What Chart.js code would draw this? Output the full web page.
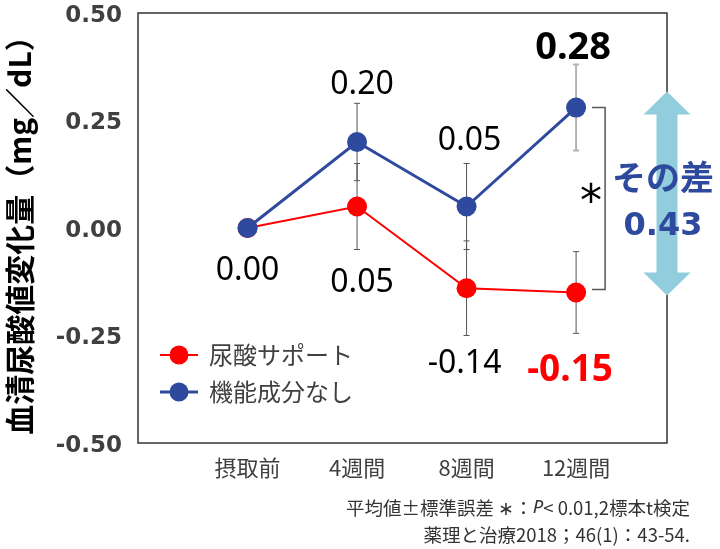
<!DOCTYPE html>
<html>
<head>
<meta charset="utf-8">
<script src="https://cdn.jsdelivr.net/npm/chart.js@4.4.1/dist/chart.umd.min.js"></script>
<style>
html,body{margin:0;padding:0;background:#fff;}
#wrap{width:720px;height:549px;}
</style>
</head>
<body>
<div id="wrap"><canvas id="chart" width="720" height="549"></canvas></div>
<script>
// data
const categories = ['摂取前', '4週間', '8週間', '12週間'];
const seriesNames = ['尿酸サポート', '機能成分なし'];
const supportVals = [0.00, 0.05, -0.14, -0.15];
const supportErr = [0, 0.10, 0.11, 0.095];
const noneVals = [0.00, 0.20, 0.05, 0.28];
const noneErr = [0, 0.09, 0.10, 0.10];
const yTicks = [0.50, 0.25, 0.00, -0.25, -0.50];
const diffText = ['その差', '0.43'];
const yTitle = '血清尿酸値変化量（mg／dL）';
const notes = ['平均値±標準誤差 ∗：', 'P', '< 0.01,2標本t検定', '薬理と治療2018；46(1)：43-54.'];

const RED = '#FF0000', BLUE = '#2E4A9E';
const JP = '"Noto Sans CJK JP", "Noto Sans", sans-serif';

// value labels: which series / index, offset from the point, style
const valueLabels = [
  {s:0, i:0, dx:0, dy:52, font:'32px "Noto Sans"', color:'#000'},
  {s:0, i:1, dx:5, dy:85, font:'32px "Noto Sans"', color:'#000'},
  {s:0, i:2, dx:-2, dy:85, font:'32px "Noto Sans"', color:'#000'},
  {s:0, i:3, dx:-6, dy:88, font:'bold 37px "Noto Sans"', color:RED},
  {s:1, i:1, dx:5, dy:-48, font:'32px "Noto Sans"', color:'#000'},
  {s:1, i:2, dx:3, dy:-57, font:'32px "Noto Sans"', color:'#000'},
  {s:1, i:3, dx:-3, dy:-49, font:'bold 38px "Noto Sans"', color:'#000'}
];

function pts(vals){ return vals.map((v,i)=>({x:i, y:v})); }

const extras = {
  id: 'extras',
  beforeDatasetsDraw(chart){
    const ctx = chart.ctx, xs = chart.scales.x, ys = chart.scales.y;
    chart.data.datasets.forEach(ds=>{
      ds.err.forEach((e,i)=>{
        if(!e) return;
        const x = xs.getPixelForValue(i);
        const t = ys.getPixelForValue(ds.data[i].y + e), b = ys.getPixelForValue(ds.data[i].y - e);
        ctx.save();
        ctx.strokeStyle = ds.errColor[i];
        ctx.lineWidth = ds.errColor[i]==='#b4b4b4' ? 2 : 1;
        ctx.beginPath();
        ctx.moveTo(x,t); ctx.lineTo(x,b);
        ctx.moveTo(x-3,t); ctx.lineTo(x+3,t);
        ctx.moveTo(x-3,b); ctx.lineTo(x+3,b);
        ctx.stroke();
        ctx.restore();
      });
    });
  },
  afterDatasetsDraw(chart){
    const ctx = chart.ctx, a = chart.chartArea, xs = chart.scales.x, ys = chart.scales.y;
    ctx.save();
    // box
    ctx.strokeStyle = '#333'; ctx.lineWidth = 1.5;
    ctx.strokeRect(a.left, a.top, a.right-a.left, a.bottom-a.top);

    // bracket + asterisk between the 12-week points
    const last = categories.length-1;
    const px = xs.getPixelForValue(last);
    const by = ys.getPixelForValue(noneVals[last]), ry = ys.getPixelForValue(supportVals[last]);
    ctx.strokeStyle = '#555'; ctx.lineWidth = 1.5;
    ctx.beginPath();
    ctx.moveTo(px+16, by); ctx.lineTo(px+29, by); ctx.lineTo(px+29, ry-3); ctx.lineTo(px+16, ry-3);
    ctx.stroke();
    ctx.fillStyle = '#000'; ctx.font = '44px "DejaVu Sans"'; ctx.textAlign = 'center'; ctx.textBaseline = 'alphabetic';
    ctx.fillText('*', px+15, (by+ry)/2 + 16);

    // difference arrow on the right border
    const ax = a.right, top = by-16, bot = ry+3;
    ctx.fillStyle = '#92CDDD';
    ctx.beginPath();
    ctx.moveTo(ax, top); ctx.lineTo(ax+23.5, top+23); ctx.lineTo(ax+10.5, top+23);
    ctx.lineTo(ax+10.5, bot-23); ctx.lineTo(ax+23.5, bot-23); ctx.lineTo(ax, bot);
    ctx.lineTo(ax-23.5, bot-23); ctx.lineTo(ax-10.5, bot-23); ctx.lineTo(ax-10.5, top+23);
    ctx.lineTo(ax-23.5, top+23); ctx.closePath();
    ctx.fill();
    ctx.fillStyle = BLUE; ctx.textAlign = 'center';
    ctx.font = 'bold 34px ' + JP; ctx.textBaseline = 'middle';
    ctx.fillText(diffText[0], ax-4, 177);
    ctx.font = 'bold 32px "DejaVu Sans"'; ctx.textBaseline = 'alphabetic';
    ctx.fillText(diffText[1], ax-4, 235);

    // value labels
    const series = [supportVals, noneVals];
    valueLabels.forEach(l=>{
      const v = series[l.s][l.i];
      ctx.font = l.font; ctx.fillStyle = l.color;
      ctx.fillText(v.toFixed(2), xs.getPixelForValue(l.i)+l.dx, ys.getPixelForValue(v)+l.dy);
    });

    // legend
    const lx = a.left+22;
    [[RED, 2, 355], [BLUE, 3, 392]].forEach((c,k)=>{
      ctx.strokeStyle = c[0]; ctx.lineWidth = c[1];
      ctx.beginPath(); ctx.moveTo(lx, c[2]); ctx.lineTo(lx+38, c[2]); ctx.stroke();
      ctx.fillStyle = c[0];
      ctx.beginPath(); ctx.arc(lx+19, c[2], 9.5, 0, Math.PI*2); ctx.fill();
      ctx.fillStyle = '#404040'; ctx.font = '24px ' + JP; ctx.textAlign = 'left'; ctx.textBaseline = 'middle';
      ctx.fillText(seriesNames[k], lx+49, c[2]);
    });

    // footnotes
    ctx.fillStyle = '#333'; ctx.textBaseline = 'middle'; ctx.textAlign = 'left';
    const f = '18.5px ' + JP, fi = 'italic 18.5px "Noto Sans"';
    let w0 = 0;
    ctx.font = f; w0 += ctx.measureText(notes[0]).width + ctx.measureText(notes[2]).width;
    ctx.font = fi; w0 += ctx.measureText(notes[1]).width;
    let x0 = 690 - w0;
    ctx.font = f; ctx.fillText(notes[0], x0, 508); x0 += ctx.measureText(notes[0]).width;
    ctx.font = fi; ctx.fillText(notes[1], x0, 508); x0 += ctx.measureText(notes[1]).width;
    ctx.font = f; ctx.fillText(notes[2], x0, 508);
    ctx.textAlign = 'right';
    ctx.fillText(notes[3], 690, 535);
    ctx.restore();
  }
};

new Chart(document.getElementById('chart'), {
  type: 'line',
  data: {
    datasets: [
      {label: seriesNames[0], data: pts(supportVals), err: supportErr, errColor: ['#555','#555','#555','#555'],
       borderColor: RED, backgroundColor: RED, borderWidth: 2, pointRadius: 10, pointBorderWidth: 0,
       pointBackgroundColor: RED, tension: 0, order: 1},
      {label: seriesNames[1], data: pts(noneVals), err: noneErr, errColor: ['#555','#555','#555','#b4b4b4'],
       borderColor: BLUE, backgroundColor: BLUE, borderWidth: 3, pointRadius: 10, pointBorderWidth: 0,
       pointBackgroundColor: BLUE, tension: 0, order: 0}
    ]
  },
  options: {
    responsive: false,
    animation: false,
    devicePixelRatio: 1,
    layout: {padding: {top: 13, right: 53, left: 0, bottom: 0}},
    plugins: {legend: {display: false}, tooltip: {enabled: false}},
    scales: {
      x: {
        type: 'linear', min: -1, max: 3.83,
        afterBuildTicks: s => { s.ticks = categories.map((c,i)=>({value:i})); },
        afterFit: s => { s.height = 106; s.paddingLeft = 0; s.paddingRight = 0; },
        grid: {display: false, drawTicks: false}, border: {display: false},
        ticks: {autoSkip: false, maxRotation: 0, padding: 11, color: '#404040',
                font: {family: JP, size: 22}, callback: v => categories[v]}
      },
      y: {
        min: -0.5, max: 0.5,
        afterBuildTicks: s => { s.ticks = yTicks.map(v=>({value:v})); },
        afterFit: s => { s.width = 138; s.paddingTop = 0; s.paddingBottom = 0; },
        grid: {display: false, drawTicks: false}, border: {display: false},
        ticks: {padding: 16, color: '#404040', labelOffset: 3,
                font: {family: '"DejaVu Sans"', size: 23, weight: 'bold'}, callback: v => v.toFixed(2)},
        title: {display: true, text: yTitle, color: '#000', padding: {top: 2, bottom: 0},
                font: {family: JP, size: 30, weight: 'bold'}}
      }
    }
  },
  plugins: [extras]
});
</script>
</body>
</html>
